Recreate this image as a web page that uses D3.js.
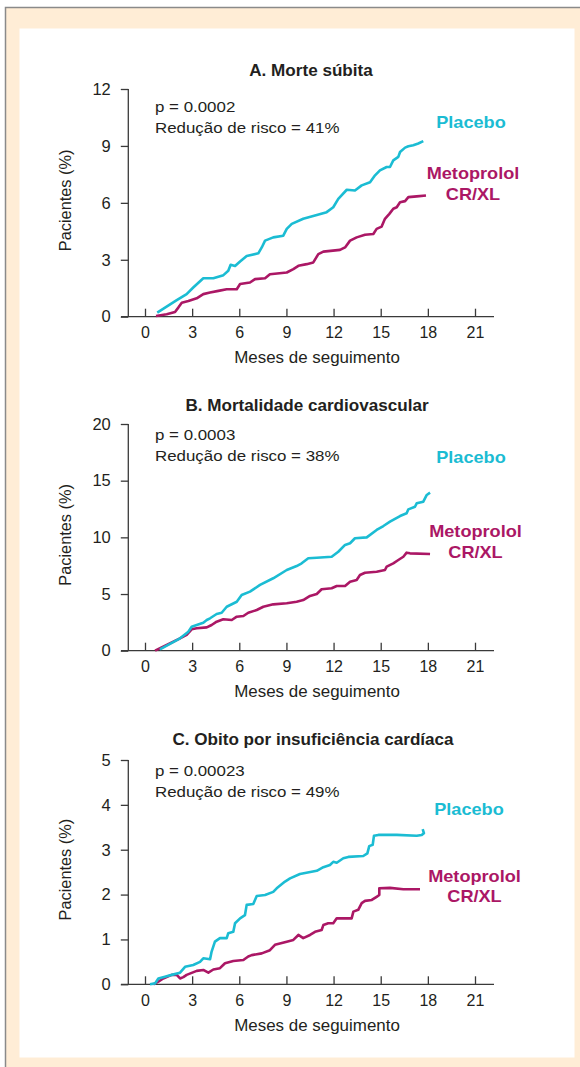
<!DOCTYPE html>
<html>
<head>
<meta charset="utf-8">
<script src="https://cdn.jsdelivr.net/npm/d3@7"></script>
<style>
  body { margin: 0; background: #fff; }
  svg { display: block; }
  text { font-family: "Liberation Sans", Arial, Helvetica, sans-serif; }
</style>
</head>
<body>
<svg id="chart" width="580" height="1067"></svg>
<script>
// ---- data -------------------------------------------------------------
const monthTicks = [0, 3, 6, 9, 12, 15, 18, 21];
const titles = ["A. Morte súbita", "B. Mortalidade cardiovascular", "C. Obito por insuficiência cardíaca"];
const pValues = ["p = 0.0002", "p = 0.0003", "p = 0.00023"];
const riskReductions = ["Redução de risco = 41%", "Redução de risco = 38%", "Redução de risco = 49%"];
const yTicksA = [0, 3, 6, 9, 12];
const yTicksB = [0, 5, 10, 15, 20];
const yTicksC = [0, 1, 2, 3, 4, 5];
const seriesNames = ["Placebo", "Metoprolol", "CR/XL"];

// [month, % patients]
const placeboA = [[0.78,0.21],[2.02,0.87],[2.65,1.19],[3.07,1.54],[3.71,2.03],[4.35,2.03],[4.99,2.19],[5.30,2.42],[5.45,2.74],[5.73,2.67],[6.05,2.91],[6.47,3.20],[7.21,3.34],[7.43,3.65],[7.64,4.01],[8.16,4.18],[8.80,4.27],[9.02,4.63],[9.34,4.89],[10.07,5.16],[10.82,5.33],[11.56,5.51],[11.98,5.77],[12.30,6.21],[12.84,6.69],[13.36,6.65],[13.79,6.92],[14.32,7.09],[14.64,7.45],[14.95,7.71],[15.38,7.89],[15.59,7.89],[15.80,8.24],[16.12,8.42],[16.23,8.68],[16.55,8.91],[16.76,8.98],[17.07,9.04],[17.39,9.13],[17.71,9.25]];
const metoprololA = [[0.70,0.04],[1.38,0.13],[1.91,0.25],[2.12,0.48],[2.34,0.74],[2.76,0.83],[3.29,0.97],[3.71,1.19],[4.14,1.27],[4.67,1.36],[5.20,1.45],[5.84,1.45],[6.05,1.72],[6.68,1.80],[7.00,1.98],[7.64,2.03],[7.95,2.24],[9.02,2.33],[9.44,2.51],[9.76,2.68],[10.29,2.77],[10.71,2.86],[11.03,3.30],[11.35,3.43],[12.41,3.52],[12.73,3.65],[13.05,4.01],[13.47,4.18],[14.00,4.32],[14.53,4.36],[14.74,4.63],[15.06,4.75],[15.27,5.16],[15.55,5.42],[15.80,5.69],[16.02,5.77],[16.23,6.03],[16.55,6.09],[16.76,6.30],[17.29,6.34],[17.88,6.39]];

const placeboB = [[0.95,0.12],[2.23,1.09],[2.76,1.68],[2.97,2.12],[3.29,2.27],[3.71,2.47],[3.93,2.71],[4.14,2.86],[4.56,3.24],[4.88,3.35],[5.20,3.88],[5.84,4.32],[6.15,4.91],[6.68,5.21],[7.32,5.80],[8.16,6.39],[9.02,7.12],[9.65,7.47],[9.97,7.71],[10.39,8.15],[10.93,8.20],[11.88,8.29],[12.30,8.73],[12.73,9.33],[13.05,9.48],[13.36,9.92],[14.11,10.00],[14.74,10.65],[15.17,11.00],[15.59,11.38],[16.23,11.88],[16.65,12.12],[16.76,12.47],[17.18,12.70],[17.29,13.00],[17.71,13.15],[17.93,13.74],[18.14,13.94]];
const metoprololB = [[0.64,0.0],[1.38,0.50],[2.23,1.09],[2.65,1.39],[2.97,1.89],[3.29,1.98],[3.93,2.06],[4.24,2.27],[4.56,2.56],[4.98,2.77],[5.52,2.71],[5.84,3.00],[6.26,3.06],[6.57,3.35],[7.11,3.59],[7.53,3.88],[8.16,4.09],[9.02,4.18],[9.65,4.32],[10.07,4.47],[10.50,4.83],[10.93,5.00],[11.24,5.42],[11.88,5.51],[12.20,5.71],[12.73,5.71],[13.05,6.09],[13.47,6.24],[13.68,6.68],[14.00,6.88],[14.74,6.97],[15.27,7.12],[15.38,7.41],[15.80,7.71],[16.12,8.00],[16.44,8.29],[16.65,8.65],[16.86,8.59],[18.14,8.53]];

const placeboC = [[0.32,0.0],[0.64,0.02],[0.85,0.13],[1.27,0.17],[1.70,0.21],[2.23,0.26],[2.55,0.39],[3.07,0.43],[3.50,0.50],[3.71,0.58],[4.14,0.56],[4.24,0.73],[4.45,0.95],[4.77,1.03],[5.20,1.03],[5.30,1.14],[5.62,1.17],[5.73,1.36],[6.05,1.47],[6.36,1.54],[6.47,1.77],[6.89,1.79],[7.11,1.97],[7.64,1.99],[8.16,2.06],[8.38,2.14],[8.91,2.29],[9.23,2.36],[9.86,2.46],[10.93,2.53],[11.35,2.61],[11.77,2.66],[11.98,2.73],[12.20,2.71],[12.62,2.81],[12.94,2.84],[13.89,2.86],[14.15,2.92],[14.27,3.08],[14.49,3.11],[14.57,3.31],[14.85,3.33],[16.02,3.33],[17.29,3.31],[17.61,3.33],[17.75,3.37],[17.67,3.46]];
const metoprololC = [[0.53,0.0],[0.85,0.06],[1.16,0.13],[1.70,0.21],[2.02,0.21],[2.23,0.13],[2.44,0.16],[2.65,0.21],[3.29,0.30],[3.71,0.32],[4.03,0.26],[4.35,0.33],[4.77,0.36],[5.09,0.47],[5.62,0.52],[6.26,0.54],[6.57,0.62],[6.79,0.65],[7.43,0.69],[7.95,0.76],[8.27,0.88],[9.02,0.95],[9.44,0.99],[9.76,1.10],[10.07,1.03],[10.50,1.10],[10.82,1.17],[11.24,1.21],[11.35,1.32],[11.66,1.36],[11.98,1.36],[12.20,1.47],[13.15,1.47],[13.26,1.62],[13.57,1.66],[13.79,1.81],[14.00,1.86],[14.43,1.88],[14.74,1.95],[14.91,1.99],[14.91,2.14],[15.59,2.15],[16.44,2.12],[17.50,2.12]];

// ---- drawing ---------------------------------------------------------
const W = 580, H = 1067;
const cyan = "#1bbcd3", magenta = "#ab1765", ink = "#231f20", axisInk = "#3a3a3a";
const svg = d3.select("#chart");

// text helper: the typeface is set slightly wide, so glyphs get a horizontal stretch
function label(parent, x, y, str, o) {
  const t = parent.append("text")
    .attr("transform", `translate(${x},${y})` + (o.rotate ? ` rotate(${o.rotate})` : "") + ` scale(${o.sx || 1},1)`)
    .attr("text-anchor", o.anchor || "start")
    .attr("font-size", o.size)
    .attr("fill", o.fill || ink)
    .text(str);
  if (o.bold) t.attr("font-weight", "bold");
  return t;
}

// framed beige card with white panel
svg.append("rect").attr("x", 0).attr("y", 0).attr("width", W).attr("height", H).attr("fill", "#ffffff");
svg.append("rect").attr("x", 5.5).attr("y", 7.5).attr("width", W - 5).attr("height", H - 7).attr("fill", "#ffedd6");
svg.append("path").attr("d", `M5.5,${H}V7.5H${W}`).attr("fill", "none").attr("stroke", "#8a8a8a").attr("stroke-width", 1.5);
svg.append("rect").attr("x", 19.5).attr("y", 28.5).attr("width", 555).attr("height", 1029).attr("fill", "#ffffff");

const panels = [
  { title: titles[0], p: pValues[0], rr: riskReductions[0], ticks: yTicksA, yMax: 12, top: 89, bottom: 316.7,
    placebo: placeboA, meto: metoprololA, titleX: 311, titleY: 76, pY: 111.7,
    lab: { plaX: 471, plaY: 128, metX: 473, metY: 179 } },
  { title: titles[1], p: pValues[1], rr: riskReductions[1], ticks: yTicksB, yMax: 20, top: 424, bottom: 650.7,
    placebo: placeboB, meto: metoprololB, titleX: 307, titleY: 410.7, pY: 440,
    lab: { plaX: 471, plaY: 463, metX: 475.5, metY: 537 } },
  { title: titles[2], p: pValues[2], rr: riskReductions[2], ticks: yTicksC, yMax: 5, top: 760, bottom: 984.3,
    placebo: placeboC, meto: metoprololC, titleX: 313, titleY: 745, pY: 775.7,
    lab: { plaX: 469, plaY: 815, metX: 474.5, metY: 881.7 } }
];

const x = d3.scaleLinear().domain([0, 21]).range([145, 475]);
const axisLeft = 128.3, axisRight = 494, axisStart = 121;

panels.forEach(pn => {
  const y = d3.scaleLinear().domain([0, pn.yMax]).range([pn.bottom, pn.top]);
  const g = svg.append("g");

  // y axis: outward ticks
  const ya = g.append("g").attr("transform", `translate(${axisLeft},0)`)
    .call(d3.axisLeft(y).tickValues(pn.ticks).tickSize(7.5).tickPadding(10).tickFormat(d3.format("d")));
  ya.select(".domain").attr("d", `M0,${pn.top}V${pn.bottom}`);
  ya.selectAll("path,line").attr("stroke", axisInk).attr("stroke-width", 1.3);
  ya.selectAll("text").attr("fill", ink).attr("font-size", 16.5).attr("font-family", null);

  // x axis: inward ticks, labels below
  const xa = g.append("g").attr("transform", `translate(0,${pn.bottom})`)
    .call(d3.axisBottom(x).tickValues(monthTicks).tickSize(-8).tickPadding(0).tickFormat(d3.format("d")));
  xa.select(".domain").attr("d", `M${axisStart},0H${axisRight}`);
  xa.selectAll("path,line").attr("stroke", axisInk).attr("stroke-width", 1.3);
  xa.selectAll("text").attr("fill", ink).attr("font-size", 16).attr("font-family", null)
    .attr("dy", null).attr("y", 21.5);

  // axis titles
  label(g, 317, pn.bottom + 46.5, "Meses de seguimento", { size: 16, sx: 1.06, anchor: "middle" });
  label(g, 70.5, (pn.top + pn.bottom) / 2 - 2.5, "Pacientes (%)", { size: 16, sx: 1.02, anchor: "middle", rotate: -90 });

  // panel title and statistics
  label(g, pn.titleX, pn.titleY, pn.title, { size: 16, sx: 1.07, anchor: "middle", bold: true });
  label(g, 155, pn.pY, pn.p, { size: 15.5, sx: 1.09 });
  label(g, 155, pn.pY + 21, pn.rr, { size: 15.5, sx: 1.09 });

  // cumulative curves
  const line = d3.line().x(d => x(d[0])).y(d => y(d[1]));
  g.append("path").datum(pn.meto).attr("d", line).attr("fill", "none")
    .attr("stroke", magenta).attr("stroke-width", 2.6).attr("stroke-linejoin", "round");
  g.append("path").datum(pn.placebo).attr("d", line).attr("fill", "none")
    .attr("stroke", cyan).attr("stroke-width", 2.6).attr("stroke-linejoin", "round");

  // series labels
  label(g, pn.lab.plaX, pn.lab.plaY, seriesNames[0], { size: 16.5, sx: 1.1, anchor: "middle", bold: true, fill: cyan });
  label(g, pn.lab.metX, pn.lab.metY, seriesNames[1], { size: 16.5, sx: 1.1, anchor: "middle", bold: true, fill: magenta });
  label(g, pn.lab.metX, pn.lab.metY + 20.5, seriesNames[2], { size: 16.5, sx: 1.1, anchor: "middle", bold: true, fill: magenta });
});
</script>
</body>
</html>
